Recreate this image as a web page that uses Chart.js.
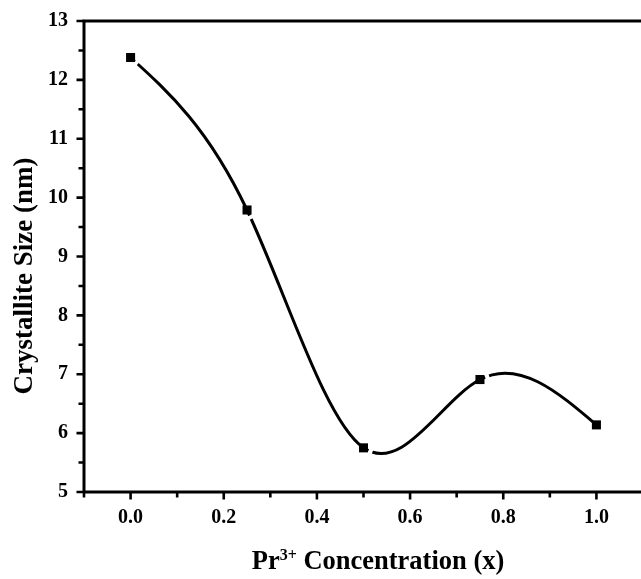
<!DOCTYPE html>
<html>
<head>
<meta charset="utf-8">
<title>Crystallite size vs Pr3+ concentration</title>
<script src="https://cdn.jsdelivr.net/npm/chart.js@4.4.0/dist/chart.umd.min.js"></script>
<style>
  html, body { margin: 0; padding: 0; background: #ffffff; overflow: hidden; }
  canvas { display: block; }
</style>
</head>
<body>
<canvas id="chart" width="650" height="579"></canvas>
<script>
// Measured crystallite size for each Pr3+ fraction x
const concentration = [0.0, 0.25, 0.5, 0.75, 1.0];
const crystalliteSize = [12.38, 9.79, 5.75, 6.91, 6.14];

// Axis ranges and the labelled (major) tick values
const xRange = [-0.1, 1.1];
const yRange = [5, 13];
const xMajorLabels = ['0.0', '0.2', '0.4', '0.6', '0.8', '1.0'];
const yMajorLabels = ['5', '6', '7', '8', '9', '10', '11', '12', '13'];

const FONT = "'Liberation Serif', 'Times New Roman', serif";
const points = concentration.map((x, i) => ({ x, y: crystalliteSize[i] }));

function labelFor(list, value) {
  const hit = list.find(s => Math.abs(Number(s) - value) < 1e-6);
  return hit === undefined ? '' : hit;
}

// Natural cubic spline through the drawn points, written into the
// Bezier control points Chart.js uses when stroking the line.
function applyNaturalSpline(pts) {
  const n = pts.length;
  if (n < 3) return;
  const h = [], d = [];
  for (let i = 0; i < n - 1; i++) {
    h[i] = pts[i + 1].x - pts[i].x;
    d[i] = (pts[i + 1].y - pts[i].y) / h[i];
  }
  const a = [], b = [], c = [], r = [];
  const M = new Array(n).fill(0);
  for (let i = 1; i < n - 1; i++) {
    a[i] = h[i - 1];
    b[i] = 2 * (h[i - 1] + h[i]);
    c[i] = h[i];
    r[i] = 6 * (d[i] - d[i - 1]);
  }
  for (let i = 2; i < n - 1; i++) {
    const w = a[i] / b[i - 1];
    b[i] -= w * c[i - 1];
    r[i] -= w * r[i - 1];
  }
  for (let i = n - 2; i >= 1; i--) {
    M[i] = (r[i] - c[i] * M[i + 1]) / b[i];
  }
  for (let i = 0; i < n - 1; i++) {
    const s0 = d[i] - h[i] * (2 * M[i] + M[i + 1]) / 6;
    const s1 = d[i] + h[i] * (M[i] + 2 * M[i + 1]) / 6;
    pts[i].cp2x = pts[i].x + h[i] / 3;
    pts[i].cp2y = pts[i].y + s0 * h[i] / 3;
    pts[i + 1].cp1x = pts[i + 1].x - h[i] / 3;
    pts[i + 1].cp1y = pts[i + 1].y - s1 * h[i] / 3;
  }
  pts[0].cp1x = pts[0].x; pts[0].cp1y = pts[0].y;
  pts[n - 1].cp2x = pts[n - 1].x; pts[n - 1].cp2y = pts[n - 1].y;
}

function bezierAt(p0, p1, p2, p3, t) {
  const u = 1 - t;
  return {
    x: u * u * u * p0.x + 3 * u * u * t * p1.x + 3 * u * t * t * p2.x + t * t * t * p3.x,
    y: u * u * u * p0.y + 3 * u * u * t * p1.y + 3 * u * t * t * p2.y + t * t * t * p3.y
  };
}

const splinePlugin = {
  id: 'naturalSpline',
  beforeDatasetDraw(chart, args) {
    if (args.index !== 0) return;
    const line = args.meta.dataset;
    applyNaturalSpline(args.meta.data);
    line._pointsUpdated = true;
    line._path = undefined;
  },
  // small break in the curve just after each symbol
  afterDatasetDraw(chart, args) {
    if (args.index !== 0) return;
    const pts = args.meta.data;
    const ctx = chart.ctx;
    const gapFrom = 5.6, gapTo = 10;
    ctx.save();
    ctx.strokeStyle = '#ffffff';
    ctx.lineWidth = 6;
    ctx.lineCap = 'butt';
    for (let i = 0; i < pts.length - 1; i++) {
      const p0 = { x: pts[i].x, y: pts[i].y };
      const p1 = { x: pts[i].cp2x, y: pts[i].cp2y };
      const p2 = { x: pts[i + 1].cp1x, y: pts[i + 1].cp1y };
      const p3 = { x: pts[i + 1].x, y: pts[i + 1].y };
      ctx.beginPath();
      let started = false;
      for (let t = 0; t <= 0.5; t += 0.002) {
        const q = bezierAt(p0, p1, p2, p3, t);
        const dist = Math.hypot(q.x - p0.x, q.y - p0.y);
        if (dist < gapFrom) continue;
        if (dist > gapTo) break;
        if (!started) { ctx.moveTo(q.x, q.y); started = true; } else { ctx.lineTo(q.x, q.y); }
      }
      ctx.stroke();
    }
    ctx.restore();
  }
};

const framePlugin = {
  id: 'frame',
  afterDatasetsDraw(chart) {
    const { ctx, chartArea } = chart;
    const { left, right, top, bottom } = chartArea;
    const xs = chart.scales.x, ys = chart.scales.y;
    ctx.save();
    ctx.strokeStyle = '#000000';
    ctx.lineWidth = 3;
    ctx.lineCap = 'square';
    ctx.beginPath();
    ctx.moveTo(left, top);
    ctx.lineTo(right, top);
    ctx.lineTo(right, bottom);
    ctx.lineTo(left, bottom);
    ctx.closePath();
    ctx.stroke();

    ctx.lineWidth = 2.6;
    ctx.lineCap = 'butt';
    ctx.beginPath();
    xs.ticks.forEach(t => {
      const px = xs.getPixelForValue(t.value);
      const major = labelFor(xMajorLabels, t.value) !== '';
      ctx.moveTo(px, bottom);
      ctx.lineTo(px, bottom + (major ? 7.5 : 5.5));
    });
    ys.ticks.forEach(t => {
      const py = ys.getPixelForValue(t.value);
      const major = labelFor(yMajorLabels, t.value) !== '';
      ctx.moveTo(left, py);
      ctx.lineTo(left - (major ? 7.5 : 5.5), py);
    });
    ctx.stroke();
    ctx.restore();
  }
};

const titlePlugin = {
  id: 'axisTitles',
  afterDraw(chart) {
    const { ctx, chartArea } = chart;
    ctx.save();
    ctx.fillStyle = '#000000';
    ctx.textBaseline = 'alphabetic';

    // y axis title
    ctx.font = 'bold 27px ' + FONT;
    ctx.textAlign = 'center';
    ctx.translate(chartArea.left - 52.5, chartArea.top + 255);
    ctx.rotate(-Math.PI / 2);
    ctx.fillText('Crystallite Size (nm)', 0, 0);
    ctx.setTransform(1, 0, 0, 1, 0, 0);

    // x axis title with superscript charge
    const mainFont = 'bold 26.5px ' + FONT;
    const supFont = 'bold 16px ' + FONT;
    const partA = 'Pr', sup = '3+', partB = ' Concentration (x)';
    ctx.textAlign = 'left';
    ctx.font = mainFont; const wA = ctx.measureText(partA).width; const wB = ctx.measureText(partB).width;
    ctx.font = supFont; const wS = ctx.measureText(sup).width;
    const total = wA + wS + wB;
    const baseY = chartArea.bottom + 77;
    let x = chartArea.left + 294 - total / 2;
    ctx.font = mainFont; ctx.fillText(partA, x, baseY); x += wA;
    ctx.font = supFont; ctx.fillText(sup, x, baseY - 9); x += wS;
    ctx.font = mainFont; ctx.fillText(partB, x, baseY);
    ctx.restore();
  }
};

const tickFont = { family: FONT, size: 20, weight: 'bold' };

new Chart(document.getElementById('chart'), {
  type: 'line',
  data: {
    datasets: [
      {
        label: 'spline',
        data: points,
        borderColor: '#000000',
        borderWidth: 3,
        tension: 0.4,
        pointRadius: 0,
        pointHoverRadius: 0,
        fill: false,
        order: 1
      },
      {
        label: 'Crystallite size',
        data: points,
        showLine: false,
        pointStyle: 'rect',
        pointRadius: 6.4,
        pointHoverRadius: 6.4,
        pointBackgroundColor: '#000000',
        pointBorderWidth: 0,
        order: 0
      }
    ]
  },
  options: {
    responsive: false,
    animation: false,
    devicePixelRatio: 1,
    layout: { padding: { top: 16, right: 3, left: 0, bottom: 0 } },
    plugins: { legend: { display: false }, tooltip: { enabled: false } },
    events: [],
    scales: {
      x: {
        type: 'linear',
        min: xRange[0],
        max: xRange[1],
        grid: { display: true, drawOnChartArea: false, drawTicks: true, tickLength: 7, color: 'rgba(0,0,0,0)' },
        border: { display: false },
        ticks: {
          stepSize: 0.1,
          autoSkip: false,
          maxRotation: 0,
          padding: 7,
          color: '#000000',
          font: tickFont,
          callback: v => labelFor(xMajorLabels, v)
        },
        afterFit: s => { s.height = 87; }
      },
      y: {
        type: 'linear',
        min: yRange[0],
        max: yRange[1],
        grid: { display: true, drawOnChartArea: false, drawTicks: true, tickLength: 7, color: 'rgba(0,0,0,0)' },
        border: { display: false },
        ticks: {
          stepSize: 0.5,
          autoSkip: false,
          padding: 9,
          color: '#000000',
          font: tickFont,
          callback: v => labelFor(yMajorLabels, v)
        },
        afterFit: s => { s.width = 84; }
      }
    }
  },
  plugins: [splinePlugin, framePlugin, titlePlugin]
});
</script>
</body>
</html>
